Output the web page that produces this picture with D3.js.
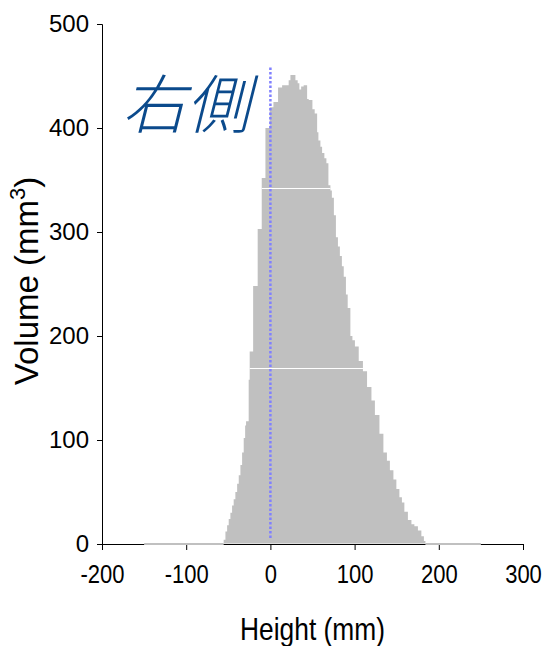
<!DOCTYPE html>
<html>
<head>
<meta charset="utf-8">
<script src="https://cdn.jsdelivr.net/npm/d3@7"></script>
<style>
  body { margin: 0; background: #fff; }
  svg { display: block; }
  .axis text { font-family: "Liberation Sans", Arial, sans-serif; fill: #000; }
  .axis path, .axis line { stroke: #000; }
</style>
</head>
<body>
<div id="chart"></div>
<script>
// histogram steps: left edge of each step (mm) and its volume (mm3)
const binStart = [-55.5, -53.4, -51.4, -49.5, -47.5, -45.5, -43.6, -41.6, -39.5, -37.6,
    -35.6, -33.6, -31.7, -30.0, -28.9, -25.8, -24.6, -20.5, -15.1, -10.3,
    -5.9, -0.8, 3.6, 9.1, 13.9, 21.7, 23.8, 29.7, 32.4, 34.4,
    36.5, 39.5, 43.6, 45.5, 49.9, 52.6, 55.5, 57.0, 59.4, 61.4,
    64.1, 66.5, 68.9, 71.3, 73.0, 75.4, 77.8, 80.2, 82.5, 84.9,
    87.1, 89.7, 91.8, 95.0, 97.4, 100.4, 104.9, 109.9, 114.8, 120.0,
    124.1, 129.5, 134.2, 138.4, 141.9, 146.1, 149.6, 153.2, 156.2, 159.1,
    163.3, 167.5, 171.0, 175.2, 179.3, 182.3];
const volume = [4, 12, 18, 24, 30, 37, 43, 50, 58, 66,
    76, 88, 102, 114, 118, 158, 185, 248, 303, 352,
    400, 420, 425, 439, 441, 446, 451, 446, 443, 437,
    440, 441, 428, 427, 418, 414, 396, 388, 382, 376,
    371, 366, 345, 340, 333, 316, 295, 286, 277, 267,
    257, 240, 227, 200, 196, 190, 176, 166, 151, 138,
    124, 106, 88, 80, 71, 62, 53, 45, 40, 31,
    23, 19, 17, 13, 7.5, 3];
const binEnd = 184.1;
// the zero part of the histogram runs wider than the filled part
const zeroRange = [-150, 250];
// thin white seams that cross the filled area
const seamLevels = [342, 169];
const markerX = 0;
const markerTop = 460;

const xTicks = [-200, -100, 0, 100, 200, 300];
const yTicks = [0, 100, 200, 300, 400, 500];

const config = {
    containerWidth: 546,
    containerHeight: 646,
    margin: { top: 24, right: 23, bottom: 102, left: 102 }
};
const width = config.containerWidth - config.margin.left - config.margin.right;
const height = config.containerHeight - config.margin.top - config.margin.bottom;

const svg = d3.select('#chart').append('svg')
    .attr('width', config.containerWidth)
    .attr('height', config.containerHeight);

const chart = svg.append('g')
    .attr('transform', `translate(${config.margin.left},${config.margin.top})`);

const xScale = d3.scaleLinear().domain([-200, 300]).range([0, width]);
const yScale = d3.scaleLinear().domain([0, 500]).range([height, 0]);

// axes (plain hyphen for negatives, as in the original)
const xAxisG = chart.append('g')
    .attr('class', 'axis x-axis')
    .attr('transform', `translate(0,${height})`)
    .call(d3.axisBottom(xScale).tickValues(xTicks).tickSize(6).tickPadding(15).tickFormat(d => String(d)));
xAxisG.selectAll('text')
    .style('font-size', '25px')
    .attr('transform', 'scale(0.88,1)');

const yAxisG = chart.append('g')
    .attr('class', 'axis y-axis')
    .call(d3.axisLeft(yScale).tickValues(yTicks).tickSize(5).tickPadding(8).tickFormat(d => String(d)));
yAxisG.selectAll('text')
    .style('font-size', '24px');

// grey zero line on top of the x axis where the histogram is empty
const zeroParts = [[zeroRange[0], binStart[0]], [binEnd, zeroRange[1]]];
chart.selectAll('.zero-line')
    .data(zeroParts)
    .join('line')
    .attr('class', 'zero-line')
    .attr('x1', d => xScale(d[0]))
    .attr('x2', d => xScale(d[1]))
    .attr('y1', yScale(0))
    .attr('y2', yScale(0))
    .attr('stroke', '#c0c0c0')
    .attr('stroke-width', 2);

// histogram as a step area
const steps = binStart.map((d, i) => ({ x: d, y: volume[i] }));
steps.push({ x: binEnd, y: volume[volume.length - 1] });

const area = d3.area()
    .x(d => xScale(d.x))
    .y0(yScale(0) - 0.5)
    .y1(d => yScale(d.y))
    .curve(d3.curveStepAfter);

chart.append('clipPath')
    .attr('id', 'hist-clip')
    .append('path')
    .attr('d', area(steps));

chart.append('path')
    .attr('class', 'hist')
    .attr('d', area(steps))
    .attr('fill', '#c0c0c0');

chart.selectAll('.seam')
    .data(seamLevels)
    .join('line')
    .attr('class', 'seam')
    .attr('clip-path', 'url(#hist-clip)')
    .attr('x1', 0)
    .attr('x2', width)
    .attr('y1', d => Math.round(yScale(d)) + 0.5)
    .attr('y2', d => Math.round(yScale(d)) + 0.5)
    .attr('stroke', '#fff')
    .attr('stroke-width', 1);

// dotted marker at zero
chart.append('line')
    .attr('x1', xScale(markerX))
    .attr('x2', xScale(markerX))
    .attr('y1', yScale(0) - 6)
    .attr('y2', yScale(markerTop))
    .attr('stroke', '#8080ff')
    .attr('stroke-width', 2.5)
    .attr('stroke-dasharray', '2.5,2');

// label in the corner
chart.append('text')
    .attr('x', 20)
    .attr('y', 104)
    .style('font-family', '"Noto Sans CJK JP", sans-serif')
    .style('font-size', '64px')
    .style('font-style', 'italic')
    .style('font-weight', 300)
    .attr('fill', '#0b4a8c')
    .text('右側');

// axis titles
const xTitleX = config.margin.left + xScale(50);
svg.append('text')
    .attr('x', xTitleX)
    .attr('y', 640)
    .attr('text-anchor', 'middle')
    .style('font-family', '"Liberation Sans", Arial, sans-serif')
    .style('font-size', '31px')
    .attr('transform', `translate(${xTitleX},0) scale(0.85,1) translate(${-xTitleX},0)`)
    .text('Height (mm)');

const yTitle = svg.append('text')
    .attr('transform', `translate(38,${config.margin.top + yScale(250) - 3}) rotate(-90)`)
    .attr('text-anchor', 'middle')
    .style('font-family', '"Liberation Sans", Arial, sans-serif')
    .style('font-size', '33px');
yTitle.append('tspan').text('Volume (mm');
yTitle.append('tspan').attr('dy', -13).style('font-size', '22px').text('3');
yTitle.append('tspan').attr('dy', 13).text(')');
</script>
</body>
</html>
